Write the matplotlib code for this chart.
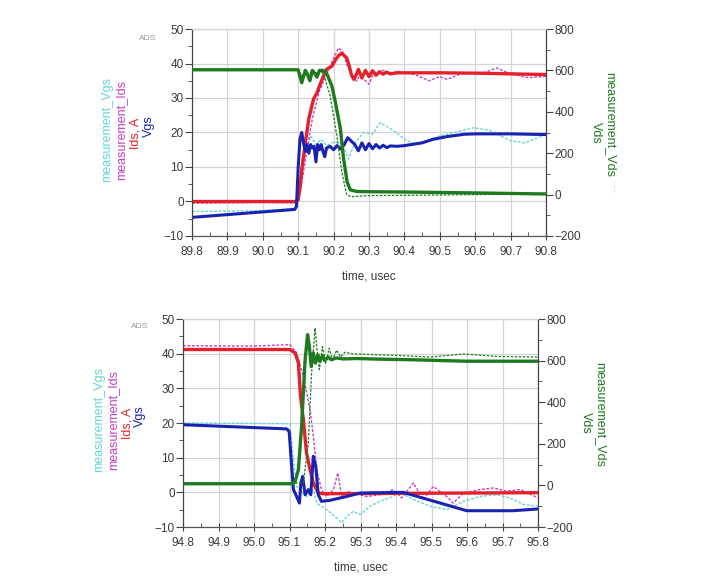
import matplotlib
matplotlib.use("Agg")
import matplotlib.pyplot as plt
from matplotlib.ticker import MultipleLocator

plt.rcParams['font.family'] = ['Liberation Sans', 'DejaVu Sans']

# ---------------- TOP (turn-on) ----------------
t_ids1 = [89.8, 90.095, 90.10, 90.105, 90.11, 90.12, 90.13, 90.143, 90.153, 90.162, 90.172, 90.18, 90.195, 90.205, 90.213,
          90.223, 90.237, 90.245, 90.25, 90.257, 90.263, 90.27, 90.28, 90.29, 90.30, 90.31, 90.32, 90.33, 90.34, 90.35,
          90.36, 90.38, 90.40, 90.5, 90.6, 90.7, 90.8]
ids1 = [0, 0, 0.5, 4, 9, 17, 24, 29.6, 31.5, 34, 36.5, 38.3, 39.2, 41, 42.2,
        43, 41.6, 39, 36.8, 35.4, 36.5, 38.3, 35.8, 38, 36.2, 37.9, 36.6, 37.6, 36.9, 37.5,
        37.0, 37.3, 37.3, 37.3, 37.2, 37.0, 36.8]

t_mids1 = [89.8, 90.0, 90.095, 90.105, 90.12, 90.14, 90.16, 90.18, 90.2, 90.214, 90.225, 90.24, 90.255, 90.266,
           90.275, 90.285, 90.3, 90.31, 90.32, 90.34, 90.36, 90.38, 90.40, 90.43, 90.47, 90.5, 90.52, 90.56,
           90.6, 90.63, 90.66, 90.7, 90.75, 90.8]
mids1 = [-0.5, -0.3, -0.4, 2, 12, 24, 32, 37, 41.5, 44.5, 43.5, 39, 36, 34.9,
         37, 35.5, 34, 36.5, 37.5, 38, 37, 37.8, 37.3, 36.8, 35, 36.2, 35.4, 37,
         37.2, 37.5, 38.7, 37, 35.9, 36.3]

t_vgs1 = [89.8, 90.09, 90.095, 90.10, 90.105, 90.11, 90.115, 90.12, 90.125, 90.13, 90.135, 90.14, 90.145, 90.15,
          90.155, 90.16, 90.165, 90.17, 90.175, 90.18, 90.19, 90.20, 90.21, 90.22, 90.23, 90.24, 90.25, 90.26,
          90.27, 90.28, 90.29, 90.30, 90.31, 90.32, 90.33, 90.34, 90.35, 90.36, 90.38, 90.40, 90.45, 90.48,
          90.52, 90.57, 90.6, 90.7, 90.8]
vgs1 = [-4.6, -2.3, -1.5, 10, 18, 20, 17, 14.5, 16.5, 14, 16.5, 15.5, 16, 11.5,
        16.5, 15, 16.5, 14.5, 13, 15.5, 16, 15, 16.2, 15.2, 16.5, 18.5, 17.5, 16.5,
        14.7, 17, 15, 16.8, 15.3, 16.5, 15.5, 16.3, 15.6, 16.1, 16, 16.2, 17, 18,
        18.8, 19.5, 19.6, 19.6, 19.4]

t_mvgs1 = [89.8, 89.9, 90.0, 90.09, 90.1, 90.11, 90.125, 90.135, 90.15, 90.165, 90.18, 90.2, 90.223, 90.242,
           90.26, 90.285, 90.31, 90.332, 90.37, 90.407, 90.436, 90.5, 90.597, 90.64, 90.7, 90.74, 90.8]
mvgs1 = [-2.9, -2.8, -2.6, -2.1, 2, 12, 16, 19, 16.5, 18, 16.2, 17.2, 17, 12.3,
         17, 20, 19.5, 22.9, 20.5, 17.6, 16.6, 19, 21.4, 20.6, 17.6, 17, 19.5]

t_vds1 = [89.8, 90.10, 90.105, 90.11, 90.12, 90.125, 90.133, 90.14, 90.145, 90.153, 90.16, 90.17, 90.18, 90.195,
          90.205, 90.219, 90.228, 90.238, 90.247, 90.266, 90.3, 90.427, 90.6, 90.8]
vds1 = [603, 603, 570, 540, 600, 585, 550, 600, 590, 567, 600, 600, 588, 525,
        447, 320, 175, 63, 23, 15, 14, 12, 8, 3]

t_mvds1 = [89.8, 90.10, 90.11, 90.12, 90.13, 90.14, 90.15, 90.16, 90.171, 90.19, 90.209, 90.223, 90.237, 90.25,
           90.294, 90.427, 90.6, 90.8]
mvds1 = [605, 605, 570, 595, 575, 600, 585, 600, 585, 480, 287, 112, -2, -10,
         -5, -3, 0, 3]

# ---------------- BOTTOM (turn-off) ----------------
t_ids2 = [94.8, 95.101, 95.116, 95.125, 95.131, 95.139, 95.148, 95.158, 95.167, 95.181, 95.195, 95.8]
ids2 = [41.2, 41.2, 40.2, 37.3, 27.7, 21, 11.3, 6.5, 2.7, -0.2, -0.4, -0.1]

t_mids2 = [94.8, 95.0, 95.101, 95.12, 95.139, 95.158, 95.167, 95.177, 95.19, 95.205, 95.224, 95.236, 95.247,
           95.261, 95.28, 95.317, 95.355, 95.392, 95.416, 95.449, 95.477, 95.505, 95.543, 95.561, 95.59,
           95.637, 95.675, 95.712, 95.75, 95.8]
mids2 = [42.3, 42.2, 42.6, 40.2, 33.5, 23.8, 16.2, 6.5, 0.8, -1.2, 0.8, 5.6, -1.2,
         0.3, -0.2, -1.2, -0.7, 0.8, -1.6, 2.7, -2.1, 1.7, -1.2, -3.1, -0.2,
         0.8, 1.25, 0.3, 0.8, -1.6]

t_vgs2 = [94.8, 95.092, 95.099, 95.104, 95.111, 95.12, 95.128, 95.132, 95.137, 95.144, 95.153, 95.16, 95.167,
          95.174, 95.181, 95.19, 95.214, 95.261, 95.299, 95.42, 95.599, 95.73, 95.8]
vgs2 = [19.5, 18.3, 17.6, 10.4, 0.8, -1.2, -3.1, 2.7, 4.6, -0.7, 0.8, -0.7, 10.4,
        7.5, -0.7, -2.6, -2.3, -1.2, -0.2, 0, -5.3, -5.3, -4.8]

t_mvgs2 = [94.8, 95.101, 95.111, 95.12, 95.148, 95.167, 95.177, 95.205, 95.233, 95.247, 95.261, 95.28, 95.299,
           95.327, 95.355, 95.392, 95.411, 95.449, 95.496, 95.543, 95.59, 95.637, 95.684, 95.72, 95.759, 95.8]
mvgs2 = [20, 19.8, 9.4, 1.7, -1.2, 0.8, -3.1, -5, -7.4, -8.8, -6.9, -5.5, -6.4,
         -4, -2.6, -1.2, 0, -2.1, -4, -5, -2.6, -1.2, -0.7, -1.6, -3.5, -4]

t_vds2 = [94.8, 95.11, 95.116, 95.125, 95.134, 95.144, 95.151, 95.156, 95.161, 95.167, 95.173, 95.18, 95.186,
          95.193, 95.199, 95.209, 95.218, 95.232, 95.251, 95.289, 95.355, 95.449, 95.599, 95.8]
vds2 = [8, 8, 20, 75, 283, 605, 725, 667, 572, 637, 588, 628, 597,
        624, 600, 617, 604, 613, 608, 610, 607, 604, 597, 597]

t_mvds2 = [94.8, 95.139, 95.153, 95.162, 95.172, 95.178, 95.184, 95.193, 95.202, 95.212, 95.221, 95.233, 95.244,
           95.256, 95.28, 95.317, 95.402, 95.496, 95.59, 95.684, 95.8]
mvds2 = [10, 12, 203, 533, 757, 643, 557, 667, 588, 660, 604, 650, 617,
         640, 632, 630, 625, 617, 632, 620, 617]

C_RED = '#e5202a'
C_MAG = '#c23fc8'
C_BLUE = '#1a22b0'
C_CYAN = '#62d6d6'
C_GREEN = '#1e7a1e'
C_GRID = '#d4d4d4'
C_TXT = '#3a3a3a'
DOT = (0, (2.0, 1.2))

fig = plt.figure(figsize=(7.09, 5.80), dpi=100)
W, H = 709.0, 580.0


def make_panel(rect, xlim, xticks, data, left_lbl_x, right_lbl_x, lbl_y, ads_xy, extra_mark=None):
    ax = fig.add_axes(rect)
    ax2 = ax.twinx()
    ax.set_xlim(*xlim)
    ax.set_ylim(-10, 50)
    ax2.set_ylim(-200, 800)
    ax.set_xticks(xticks)
    ax.set_xticklabels(['%.1f' % v for v in xticks])
    ax.xaxis.set_minor_locator(MultipleLocator(0.05))
    ax.yaxis.set_major_locator(MultipleLocator(10))
    ax.yaxis.set_minor_locator(MultipleLocator(5))
    ax2.yaxis.set_major_locator(MultipleLocator(200))
    ax2.yaxis.set_minor_locator(MultipleLocator(100))
    ax.grid(True, which='major', color=C_GRID, lw=0.9)
    ax.set_axisbelow(True)
    for a in (ax, ax2):
        a.spines['top'].set_color(C_GRID)
        a.spines['bottom'].set_color('#555555')
        a.spines['left'].set_color('#444444')
        a.spines['right'].set_color('#444444')
    ax.tick_params(axis='x', which='major', direction='inout', length=6, colors='#444444', labelcolor=C_TXT,
                   labelsize=8.5, pad=4)
    ax.tick_params(axis='x', which='minor', direction='in', length=3, colors='#444444')
    ax.tick_params(axis='y', which='major', direction='out', length=5, colors='#444444', labelcolor=C_TXT,
                   labelsize=8.5, pad=1)
    ax.tick_params(axis='y', which='minor', direction='out', length=3, colors='#444444')
    ax2.tick_params(axis='y', which='major', direction='out', length=5, colors='#444444', labelcolor=C_TXT,
                    labelsize=8.5, pad=1)
    ax2.tick_params(axis='y', which='minor', direction='out', length=3, colors='#444444')

    (t_ids, ids, t_mids, mids, t_vgs, vgs, t_mvgs, mvgs, t_vds, vds, t_mvds, mvds) = data
    ax.plot(t_mvgs, mvgs, color=C_CYAN, lw=1.0, ls=DOT, zorder=2)
    ax.plot(t_mids, mids, color=C_MAG, lw=1.0, ls=DOT, zorder=2)
    ax2.plot(t_mvds, mvds, color=C_GREEN, lw=0.9, ls=DOT, zorder=2)
    ax.plot(t_ids, ids, color=C_RED, lw=2.4, zorder=3)
    ax.plot(t_vgs, vgs, color=C_BLUE, lw=2.2, zorder=4)
    ax2.plot(t_vds, vds, color=C_GREEN, lw=2.4, zorder=5)

    ax.set_xlabel('time, usec', fontsize=8.5, color=C_TXT, labelpad=9)

    lx = left_lbl_x
    fig.text(lx[0] / W, 1 - lbl_y / H, 'measurement_Vgs', color=C_CYAN, rotation=90, ha='center', va='center', fontsize=9)
    fig.text(lx[1] / W, 1 - lbl_y / H, 'measurement_Ids', color=C_MAG, rotation=90, ha='center', va='center', fontsize=9)
    fig.text(lx[2] / W, 1 - (lbl_y + 3) / H, 'Ids, A', color=C_RED, rotation=90, ha='center', va='center', fontsize=9)
    fig.text(lx[3] / W, 1 - (lbl_y - 4) / H, 'Vgs', color=C_BLUE, rotation=90, ha='center', va='center', fontsize=9)
    rx = right_lbl_x
    fig.text(rx[0] / W, 1 - (lbl_y - 5) / H, 'measurement_Vds', color=C_GREEN, rotation=270, ha='center', va='center', fontsize=9)
    fig.text(rx[1] / W, 1 - (lbl_y + 3) / H, 'Vds', color=C_GREEN, rotation=270, ha='center', va='center', fontsize=9)
    fig.text(ads_xy[0] / W, 1 - ads_xy[1] / H, 'ADS', color='#9a9a9a', ha='center', va='center', fontsize=6)
    if extra_mark is not None:
        fig.text(extra_mark[0] / W, 1 - extra_mark[1] / H, '- -', color='#b0b0b0', rotation=270,
                 ha='center', va='center', fontsize=5)
    return ax


make_panel([192 / W, 1 - 236 / H, 354 / W, 207 / H], (89.8, 90.8),
           [89.8, 89.9, 90.0, 90.1, 90.2, 90.3, 90.4, 90.5, 90.6, 90.7, 90.8],
           (t_ids1, ids1, t_mids1, mids1, t_vgs1, vgs1, t_mvgs1, mvgs1, t_vds1, vds1, t_mvds1, mvds1),
           [107, 121, 135, 149], [610, 596], 130, (148, 39), extra_mark=(613, 188))
make_panel([183 / W, 1 - 527 / H, 355 / W, 208 / H], (94.8, 95.8),
           [94.8, 94.9, 95.0, 95.1, 95.2, 95.3, 95.4, 95.5, 95.6, 95.7, 95.8],
           (t_ids2, ids2, t_mids2, mids2, t_vgs2, vgs2, t_mvgs2, mvgs2, t_vds2, vds2, t_mvds2, mvds2),
           [99, 113, 127, 140], [600, 586], 420, (140, 327))

fig.savefig('out.png', dpi=100)
